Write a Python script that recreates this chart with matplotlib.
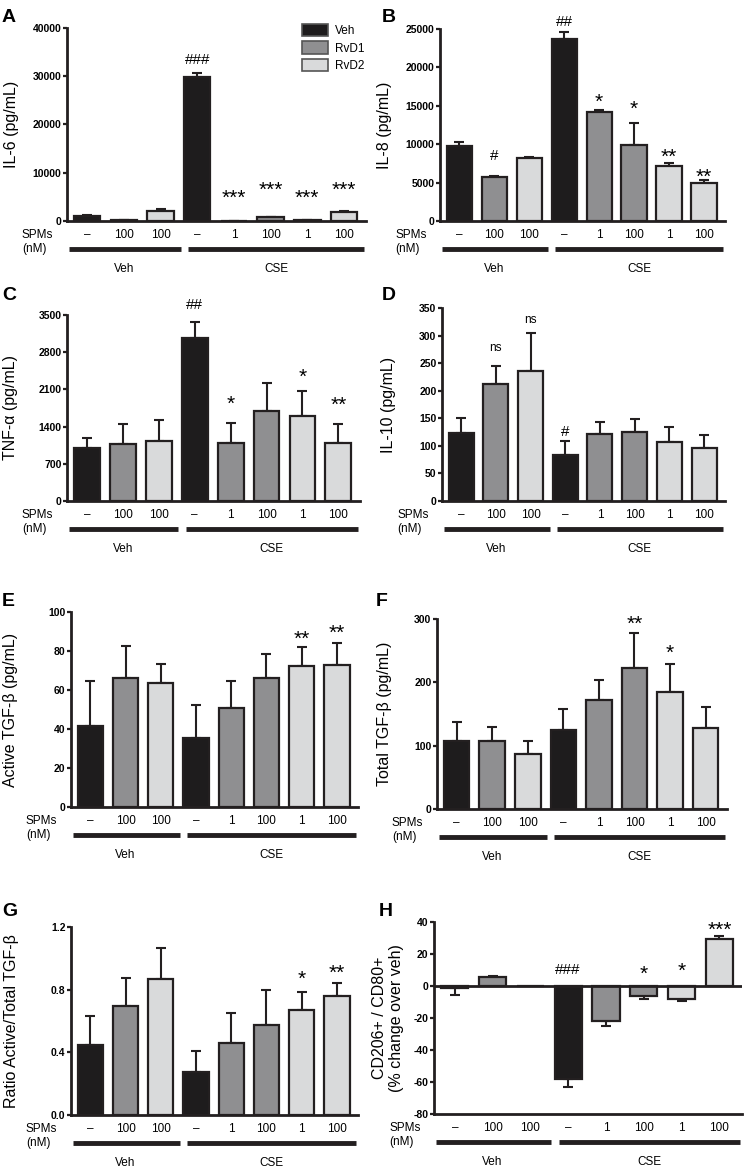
import numpy as np
import matplotlib
matplotlib.use('Agg')
import matplotlib.pyplot as plt
from matplotlib import transforms
from matplotlib.patches import Patch

plt.rcParams['font.family'] = ['Liberation Sans', 'DejaVu Sans']

W, H = 744, 1173
EDGE = '#231f20'
FILLS = {'veh': '#1e1c1d', 'rvd1': '#8f8f91', 'rvd2': '#d9dadb'}

bar_kind = ['veh', 'rvd1', 'rvd2', 'veh', 'rvd1', 'rvd1', 'rvd2', 'rvd2']
doses = ['–', '100', '100', '–', '1', '100', '1', '100']
groups = ['Veh', 'CSE']

# values (mean, upper SEM)
il6 = [1100, 200, 2150, 29900, 60, 760, 150, 1870]
il6_err = [100, 30, 250, 800, 20, 80, 30, 150]
il6_marks = [(3, '###', 33400), (4, '***', 5900), (5, '***', 7500),
             (6, '***', 5900), (7, '***', 7500)]

il8 = [9800, 5700, 8200, 23700, 14250, 9900, 7100, 4900]
il8_err = [450, 200, 100, 850, 200, 2900, 500, 450]
il8_marks = [(3, '##', 25900), (1, '#', 8400), (4, '*', 16200),
             (5, '*', 15300), (6, '**', 9000), (7, '**', 6400)]

tnf = [1000, 1070, 1130, 3060, 1085, 1690, 1595, 1085]
tnf_err = [180, 380, 400, 300, 380, 530, 475, 365]
tnf_marks = [(3, '##', 3680), (4, '*', 1930), (6, '*', 2434), (7, '**', 1913)]

il10 = [124, 212, 236, 84, 121, 125, 107, 96]
il10_err = [26, 33, 69, 24, 23, 24, 28, 23]
il10_marks = [(1, 'ns', 277), (2, 'ns', 329), (3, '#', 126)]

act_tgf = [41.5, 66.2, 63.6, 35.6, 50.8, 66.0, 72.1, 72.8]
act_tgf_err = [23.1, 16.2, 9.6, 16.9, 13.8, 12.5, 10.0, 11.3]
act_tgf_marks = [(6, '**', 88.9), (7, '**', 91.8)]

tot_tgf = [108, 108, 87, 125, 172, 222, 184, 128]
tot_tgf_err = [30, 21, 20, 33, 32, 56, 45, 33]
tot_tgf_marks = [(5, '**', 301), (6, '*', 254)]

ratio = [0.446, 0.697, 0.871, 0.276, 0.459, 0.573, 0.671, 0.758]
ratio_err = [0.185, 0.18, 0.195, 0.13, 0.189, 0.228, 0.115, 0.085]
ratio_marks = [(6, '*', 0.903), (7, '**', 0.941)]

cd206 = [-1, 5.5, 0, -58, -21.9, -6.3, -8.2, 29.2]
cd206_err = [4.6, 0.5, 0, 5.4, 3.1, 2.1, 1.0, 2.0]
cd206_marks = [(3, '###', 10.3), (5, '*', 10.9), (6, '*', 12.4), (7, '***', 38)]

fig = plt.figure(figsize=(W / 100, H / 100), dpi=100)


def make_axes(left, right, top, bottom):
    return fig.add_axes([left / W, 1 - bottom / H, (right - left) / W, (bottom - top) / H])


def draw_panel(box, letter, letter_xy, vals, errs, marks, ylim, yticks, ylabel,
               label_off, ticklabels=None):
    ax = make_axes(*box)
    vals = np.array(vals, dtype=float)
    errs = np.array(errs, dtype=float)
    x = np.arange(len(vals))
    colors = [FILLS[k] for k in bar_kind]

    lower = np.where(vals < 0, errs, 0)
    upper = np.where(vals >= 0, errs, 0)
    keep = errs > 0
    ax.errorbar(x[keep], vals[keep], yerr=[lower[keep], upper[keep]], fmt='none',
                ecolor=EDGE, elinewidth=1.5, capsize=3.5, capthick=1.5, zorder=1)
    ax.bar(x, vals, width=0.72, color=colors, edgecolor=EDGE, linewidth=1.6, zorder=2)

    ax.set_xlim(-0.55, 7.6)
    ax.set_ylim(*ylim)
    if ticklabels is None:
        ticklabels = [str(t) for t in yticks]
    ax.set_yticks(yticks, labels=ticklabels, fontweight='bold')
    ax.set_xticks([])
    ax.tick_params(axis='y', direction='out', length=3, width=1.6, labelsize=7.5,
                   pad=1, color=EDGE)
    for s in ['top', 'right']:
        ax.spines[s].set_visible(False)
    for s in ['left', 'bottom']:
        ax.spines[s].set_linewidth(2)
        ax.spines[s].set_color(EDGE)
    if ylim[0] < 0:
        ax.axhline(0, color=EDGE, lw=2, zorder=3)

    ax.text(-label_off / (box[1] - box[0]), 0.5, ylabel, transform=ax.transAxes,
            rotation=90, ha='center', va='center', fontsize=11.5, linespacing=1.1)

    for i, txt, y in marks:
        if txt.startswith('*'):
            ax.annotate(txt, (i, y), xytext=(0, -4), textcoords='offset points',
                        ha='center', va='center', fontsize=15, annotation_clip=False)
        elif txt.startswith('#'):
            ax.text(i, y, txt, ha='center', va='center', fontsize=11, clip_on=False)
        else:
            ax.text(i, y, txt, ha='center', va='center', fontsize=8.5, clip_on=False)

    blend = transforms.blended_transform_factory(ax.transData, ax.transAxes)
    row1 = transforms.offset_copy(blend, fig=fig, y=-14, units='dots')
    row_line = transforms.offset_copy(blend, fig=fig, y=-28, units='dots')
    row3 = transforms.offset_copy(blend, fig=fig, y=-48, units='dots')
    for i, d in enumerate(doses):
        ax.text(i, 0, d, transform=row1, ha='center', va='center', fontsize=8.5)
    ax.text(0, 0, 'SPMs', transform=transforms.offset_copy(
        ax.transAxes, fig=fig, x=-45, y=-14, units='dots'), ha='left', va='center', fontsize=8.5)
    ax.text(0, 0, '(nM)', transform=transforms.offset_copy(
        ax.transAxes, fig=fig, x=-45, y=-28, units='dots'), ha='left', va='center', fontsize=8.5)
    ax.plot([-0.5, 2.55], [0, 0], transform=row_line, color=EDGE, lw=3.5,
            solid_capstyle='butt', clip_on=False)
    ax.plot([2.75, 7.55], [0, 0], transform=row_line, color=EDGE, lw=3.5,
            solid_capstyle='butt', clip_on=False)
    ax.text(1.0, 0, groups[0], transform=row3, ha='center', va='center', fontsize=8.5)
    ax.text(5.15, 0, groups[1], transform=row3, ha='center', va='center', fontsize=8.5)

    fig.text(letter_xy[0] / W, 1 - letter_xy[1] / H, letter, fontsize=14,
             fontweight='bold', ha='left', va='center')
    return ax


ax_a = draw_panel((67, 366, 28, 221), 'A', (2, 18), il6, il6_err, il6_marks,
                  (0, 40000), [0, 10000, 20000, 30000, 40000], 'IL-6 (pg/mL)', 56)
draw_panel((440, 725, 29, 221), 'B', (382, 18), il8, il8_err, il8_marks,
           (0, 25000), [0, 5000, 10000, 15000, 20000, 25000], 'IL-8 (pg/mL)', 55)
draw_panel((67, 360, 315, 501), 'C', (2, 295), tnf, tnf_err, tnf_marks,
           (0, 3500), [0, 700, 1400, 2100, 2800, 3500], 'TNF-α (pg/mL)', 56)
draw_panel((442, 725, 308, 501), 'D', (382, 295), il10, il10_err, il10_marks,
           (0, 350), [0, 50, 100, 150, 200, 250, 300, 350], 'IL-10 (pg/mL)', 54)
draw_panel((71, 358, 612, 807), 'E', (2, 602), act_tgf, act_tgf_err, act_tgf_marks,
           (0, 100), [0, 20, 40, 60, 80, 100], 'Active TGF-β (pg/mL)', 60)
draw_panel((437, 727, 619, 809), 'F', (376, 602), tot_tgf, tot_tgf_err, tot_tgf_marks,
           (0, 300), [0, 100, 200, 300], 'Total TGF-β (pg/mL)', 53)
draw_panel((71, 358, 927, 1115), 'G', (2, 912), ratio, ratio_err, ratio_marks,
           (0, 1.2), [0, 0.4, 0.8, 1.2], 'Ratio Active/Total TGF-β', 59,
           ticklabels=['0.0', '0.4', '0.8', '1.2'])
draw_panel((434, 742, 922, 1114), 'H', (379, 912), cd206, cd206_err, cd206_marks,
           (-80, 40), [-80, -60, -40, -20, 0, 20, 40],
           'CD206+ / CD80+\n(% change over veh)', 46)

handles = [Patch(facecolor=FILLS[k], edgecolor='#555555', linewidth=1.2)
           for k in ['veh', 'rvd1', 'rvd2']]
fig.legend(handles, ['Veh', 'RvD1', 'RvD2'], loc='upper left',
           bbox_to_anchor=(302 / W, 1 - 24 / H), frameon=False, fontsize=8.5,
           handlelength=2.2, handleheight=1.25, labelspacing=0.35,
           handletextpad=0.6, borderpad=0, borderaxespad=0)

fig.savefig('out.png', dpi=100)
